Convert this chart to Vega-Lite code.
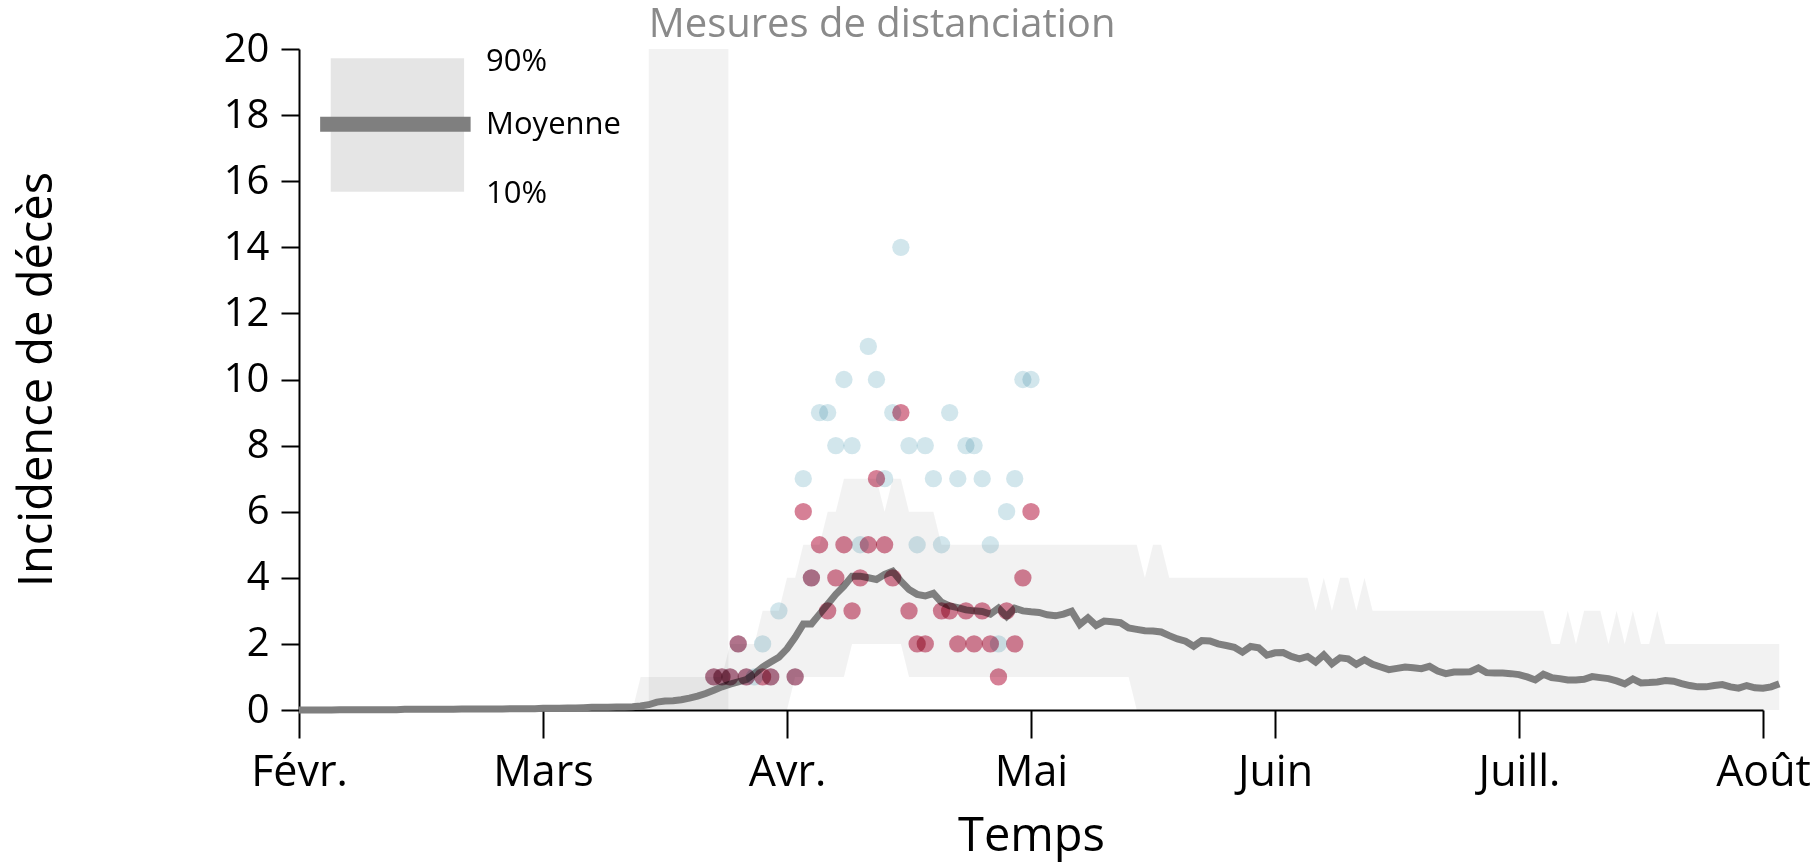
{
  "$schema": "https://vega.github.io/schema/vega-lite/v6.json",
  "width": 1464,
  "height": 661,
  "autosize": "none",
  "padding": {"left": 299, "top": 49, "right": 56, "bottom": 157},
  "background": "white",
  "config": {
    "view": {"stroke": null},
    "font": "Open Sans",
    "axis": {
      "grid": false,
      "domainColor": "black",
      "domainWidth": 2,
      "tickColor": "black",
      "tickWidth": 2,
      "labelColor": "black",
      "titleColor": "black",
      "labelFont": "Open Sans",
      "titleFont": "Open Sans",
      "titleFontWeight": "normal"
    }
  },
  "datasets": {
    "moyenne": [
      {"jour":0,"moyenne":0},{"jour":1,"moyenne":0},{"jour":2,"moyenne":0},{"jour":3,"moyenne":0},{"jour":4,"moyenne":0},
      {"jour":5,"moyenne":0.01},{"jour":6,"moyenne":0.01},{"jour":7,"moyenne":0.01},{"jour":8,"moyenne":0.01},{"jour":9,"moyenne":0.01},
      {"jour":10,"moyenne":0.01},{"jour":11,"moyenne":0.01},{"jour":12,"moyenne":0.01},{"jour":13,"moyenne":0.02},{"jour":14,"moyenne":0.02},
      {"jour":15,"moyenne":0.02},{"jour":16,"moyenne":0.02},{"jour":17,"moyenne":0.02},{"jour":18,"moyenne":0.02},{"jour":19,"moyenne":0.02},
      {"jour":20,"moyenne":0.03},{"jour":21,"moyenne":0.03},{"jour":22,"moyenne":0.03},{"jour":23,"moyenne":0.03},{"jour":24,"moyenne":0.03},
      {"jour":25,"moyenne":0.03},{"jour":26,"moyenne":0.04},{"jour":27,"moyenne":0.04},{"jour":28,"moyenne":0.04},{"jour":29,"moyenne":0.04},
      {"jour":30,"moyenne":0.05},{"jour":31,"moyenne":0.05},{"jour":32,"moyenne":0.05},{"jour":33,"moyenne":0.06},{"jour":34,"moyenne":0.06},
      {"jour":35,"moyenne":0.07},{"jour":36,"moyenne":0.08},{"jour":37,"moyenne":0.08},{"jour":38,"moyenne":0.08},{"jour":39,"moyenne":0.09},
      {"jour":40,"moyenne":0.09},{"jour":41,"moyenne":0.1},{"jour":42,"moyenne":0.12},{"jour":43,"moyenne":0.16},{"jour":44,"moyenne":0.24},
      {"jour":45,"moyenne":0.27},{"jour":46,"moyenne":0.28},{"jour":47,"moyenne":0.31},{"jour":48,"moyenne":0.36},{"jour":49,"moyenne":0.42},
      {"jour":50,"moyenne":0.5},{"jour":51,"moyenne":0.6},{"jour":52,"moyenne":0.7},{"jour":53,"moyenne":0.78},{"jour":54,"moyenne":0.85},
      {"jour":55,"moyenne":0.92},{"jour":56,"moyenne":1.1},{"jour":57,"moyenne":1.3},{"jour":58,"moyenne":1.45},{"jour":59,"moyenne":1.6},
      {"jour":60,"moyenne":1.85},{"jour":61,"moyenne":2.2},{"jour":62,"moyenne":2.6},{"jour":63,"moyenne":2.6},{"jour":64,"moyenne":2.9},
      {"jour":65,"moyenne":3.2},{"jour":66,"moyenne":3.5},{"jour":67,"moyenne":3.75},{"jour":68,"moyenne":4.05},{"jour":69,"moyenne":4.05},
      {"jour":70,"moyenne":4.0},{"jour":71,"moyenne":3.95},{"jour":72,"moyenne":4.1},{"jour":73,"moyenne":4.2},{"jour":74,"moyenne":3.9},
      {"jour":75,"moyenne":3.65},{"jour":76,"moyenne":3.5},{"jour":77,"moyenne":3.45},{"jour":78,"moyenne":3.53},{"jour":79,"moyenne":3.26},
      {"jour":80,"moyenne":3.15},{"jour":81,"moyenne":3.1},{"jour":82,"moyenne":3.03},{"jour":83,"moyenne":3.0},{"jour":84,"moyenne":2.98},
      {"jour":85,"moyenne":2.9},{"jour":86,"moyenne":3.08},{"jour":87,"moyenne":2.83},{"jour":88,"moyenne":3.08},{"jour":89,"moyenne":3.0},
      {"jour":90,"moyenne":2.97},{"jour":91,"moyenne":2.95},{"jour":92,"moyenne":2.88},{"jour":93,"moyenne":2.85},{"jour":94,"moyenne":2.9},
      {"jour":95,"moyenne":2.99},{"jour":96,"moyenne":2.59},{"jour":97,"moyenne":2.79},{"jour":98,"moyenne":2.56},{"jour":99,"moyenne":2.69},
      {"jour":100,"moyenne":2.67},{"jour":101,"moyenne":2.64},{"jour":102,"moyenne":2.48},{"jour":103,"moyenne":2.44},{"jour":104,"moyenne":2.4},
      {"jour":105,"moyenne":2.39},{"jour":106,"moyenne":2.36},{"jour":107,"moyenne":2.25},{"jour":108,"moyenne":2.15},{"jour":109,"moyenne":2.08},
      {"jour":110,"moyenne":1.93},{"jour":111,"moyenne":2.1},{"jour":112,"moyenne":2.09},{"jour":113,"moyenne":2.0},{"jour":114,"moyenne":1.95},
      {"jour":115,"moyenne":1.9},{"jour":116,"moyenne":1.75},{"jour":117,"moyenne":1.92},{"jour":118,"moyenne":1.88},{"jour":119,"moyenne":1.66},
      {"jour":120,"moyenne":1.73},{"jour":121,"moyenne":1.74},{"jour":122,"moyenne":1.62},{"jour":123,"moyenne":1.55},{"jour":124,"moyenne":1.62},
      {"jour":125,"moyenne":1.45},{"jour":126,"moyenne":1.67},{"jour":127,"moyenne":1.4},{"jour":128,"moyenne":1.58},{"jour":129,"moyenne":1.55},
      {"jour":130,"moyenne":1.38},{"jour":131,"moyenne":1.52},{"jour":132,"moyenne":1.38},{"jour":133,"moyenne":1.3},{"jour":134,"moyenne":1.22},
      {"jour":135,"moyenne":1.26},{"jour":136,"moyenne":1.3},{"jour":137,"moyenne":1.28},{"jour":138,"moyenne":1.25},{"jour":139,"moyenne":1.32},
      {"jour":140,"moyenne":1.18},{"jour":141,"moyenne":1.1},{"jour":142,"moyenne":1.15},{"jour":143,"moyenne":1.15},{"jour":144,"moyenne":1.16},
      {"jour":145,"moyenne":1.27},{"jour":146,"moyenne":1.13},{"jour":147,"moyenne":1.12},{"jour":148,"moyenne":1.12},{"jour":149,"moyenne":1.1},
      {"jour":150,"moyenne":1.07},{"jour":151,"moyenne":1.0},{"jour":152,"moyenne":0.91},{"jour":153,"moyenne":1.08},{"jour":154,"moyenne":0.98},
      {"jour":155,"moyenne":0.95},{"jour":156,"moyenne":0.91},{"jour":157,"moyenne":0.91},{"jour":158,"moyenne":0.93},{"jour":159,"moyenne":1.01},
      {"jour":160,"moyenne":0.98},{"jour":161,"moyenne":0.95},{"jour":162,"moyenne":0.88},{"jour":163,"moyenne":0.79},{"jour":164,"moyenne":0.94},
      {"jour":165,"moyenne":0.82},{"jour":166,"moyenne":0.83},{"jour":167,"moyenne":0.85},{"jour":168,"moyenne":0.89},{"jour":169,"moyenne":0.87},
      {"jour":170,"moyenne":0.8},{"jour":171,"moyenne":0.74},{"jour":172,"moyenne":0.7},{"jour":173,"moyenne":0.7},{"jour":174,"moyenne":0.74},
      {"jour":175,"moyenne":0.77},{"jour":176,"moyenne":0.7},{"jour":177,"moyenne":0.66},{"jour":178,"moyenne":0.74},{"jour":179,"moyenne":0.67},
      {"jour":180,"moyenne":0.66},{"jour":181,"moyenne":0.7},{"jour":182,"moyenne":0.79}
    ],
    "bande": [
      {"jour":41,"bas":0,"haut":0},
      {"jour":42,"bas":0,"haut":1},{"jour":43,"bas":0,"haut":1},{"jour":44,"bas":0,"haut":1},{"jour":45,"bas":0,"haut":1},
      {"jour":46,"bas":0,"haut":1},{"jour":47,"bas":0,"haut":1},{"jour":48,"bas":0,"haut":1},{"jour":49,"bas":0,"haut":1},
      {"jour":50,"bas":0,"haut":1},{"jour":51,"bas":0,"haut":1},{"jour":52,"bas":0,"haut":1},
      {"jour":53,"bas":0,"haut":2},{"jour":54,"bas":0,"haut":2},{"jour":55,"bas":0,"haut":2},{"jour":56,"bas":0,"haut":2},
      {"jour":57,"bas":0,"haut":3},{"jour":58,"bas":0,"haut":3},{"jour":59,"bas":0,"haut":3},
      {"jour":60,"bas":0,"haut":4},{"jour":61,"bas":1,"haut":4},
      {"jour":62,"bas":1,"haut":5},{"jour":63,"bas":1,"haut":5},{"jour":64,"bas":1,"haut":5},
      {"jour":65,"bas":1,"haut":6},{"jour":66,"bas":1,"haut":6},{"jour":67,"bas":1,"haut":7},
      {"jour":68,"bas":2,"haut":7},{"jour":69,"bas":2,"haut":7},{"jour":70,"bas":2,"haut":7},{"jour":71,"bas":2,"haut":7},
      {"jour":72,"bas":2,"haut":6},{"jour":73,"bas":2,"haut":7},{"jour":74,"bas":2,"haut":7},
      {"jour":75,"bas":1,"haut":6},{"jour":76,"bas":1,"haut":6},{"jour":77,"bas":1,"haut":6},{"jour":78,"bas":1,"haut":6},
      {"jour":79,"bas":1,"haut":5},{"jour":80,"bas":1,"haut":5},{"jour":81,"bas":1,"haut":5},{"jour":82,"bas":1,"haut":5},
      {"jour":83,"bas":1,"haut":5},{"jour":84,"bas":1,"haut":5},{"jour":85,"bas":1,"haut":5},{"jour":86,"bas":1,"haut":5},
      {"jour":87,"bas":1,"haut":5},{"jour":88,"bas":1,"haut":5},{"jour":89,"bas":1,"haut":5},{"jour":90,"bas":1,"haut":5},
      {"jour":91,"bas":1,"haut":5},{"jour":92,"bas":1,"haut":5},{"jour":93,"bas":1,"haut":5},{"jour":94,"bas":1,"haut":5},
      {"jour":95,"bas":1,"haut":5},{"jour":96,"bas":1,"haut":5},{"jour":97,"bas":1,"haut":5},{"jour":98,"bas":1,"haut":5},
      {"jour":99,"bas":1,"haut":5},{"jour":100,"bas":1,"haut":5},{"jour":101,"bas":1,"haut":5},{"jour":102,"bas":1,"haut":5},
      {"jour":103,"bas":0,"haut":5},{"jour":104,"bas":0,"haut":4},{"jour":105,"bas":0,"haut":5},{"jour":106,"bas":0,"haut":5},
      {"jour":107,"bas":0,"haut":4},{"jour":108,"bas":0,"haut":4},{"jour":109,"bas":0,"haut":4},{"jour":110,"bas":0,"haut":4},
      {"jour":111,"bas":0,"haut":4},{"jour":112,"bas":0,"haut":4},{"jour":113,"bas":0,"haut":4},{"jour":114,"bas":0,"haut":4},
      {"jour":115,"bas":0,"haut":4},{"jour":116,"bas":0,"haut":4},{"jour":117,"bas":0,"haut":4},{"jour":118,"bas":0,"haut":4},
      {"jour":119,"bas":0,"haut":4},{"jour":120,"bas":0,"haut":4},{"jour":121,"bas":0,"haut":4},{"jour":122,"bas":0,"haut":4},
      {"jour":123,"bas":0,"haut":4},{"jour":124,"bas":0,"haut":4},{"jour":125,"bas":0,"haut":3},{"jour":126,"bas":0,"haut":4},
      {"jour":127,"bas":0,"haut":3},{"jour":128,"bas":0,"haut":4},{"jour":129,"bas":0,"haut":4},{"jour":130,"bas":0,"haut":3},
      {"jour":131,"bas":0,"haut":4},{"jour":132,"bas":0,"haut":3},{"jour":133,"bas":0,"haut":3},{"jour":134,"bas":0,"haut":3},
      {"jour":135,"bas":0,"haut":3},{"jour":136,"bas":0,"haut":3},{"jour":137,"bas":0,"haut":3},{"jour":138,"bas":0,"haut":3},
      {"jour":139,"bas":0,"haut":3},{"jour":140,"bas":0,"haut":3},{"jour":141,"bas":0,"haut":3},{"jour":142,"bas":0,"haut":3},
      {"jour":143,"bas":0,"haut":3},{"jour":144,"bas":0,"haut":3},{"jour":145,"bas":0,"haut":3},{"jour":146,"bas":0,"haut":3},
      {"jour":147,"bas":0,"haut":3},{"jour":148,"bas":0,"haut":3},{"jour":149,"bas":0,"haut":3},{"jour":150,"bas":0,"haut":3},
      {"jour":151,"bas":0,"haut":3},{"jour":152,"bas":0,"haut":3},{"jour":153,"bas":0,"haut":3},{"jour":154,"bas":0,"haut":2},
      {"jour":155,"bas":0,"haut":2},{"jour":156,"bas":0,"haut":3},{"jour":157,"bas":0,"haut":2},{"jour":158,"bas":0,"haut":3},
      {"jour":159,"bas":0,"haut":3},{"jour":160,"bas":0,"haut":3},{"jour":161,"bas":0,"haut":2},{"jour":162,"bas":0,"haut":3},
      {"jour":163,"bas":0,"haut":2},{"jour":164,"bas":0,"haut":3},{"jour":165,"bas":0,"haut":2},{"jour":166,"bas":0,"haut":2},
      {"jour":167,"bas":0,"haut":3},{"jour":168,"bas":0,"haut":2},{"jour":169,"bas":0,"haut":2},{"jour":170,"bas":0,"haut":2},
      {"jour":171,"bas":0,"haut":2},{"jour":172,"bas":0,"haut":2},{"jour":173,"bas":0,"haut":2},{"jour":174,"bas":0,"haut":2},
      {"jour":175,"bas":0,"haut":2},{"jour":176,"bas":0,"haut":2},{"jour":177,"bas":0,"haut":2},{"jour":178,"bas":0,"haut":2},
      {"jour":179,"bas":0,"haut":2},{"jour":180,"bas":0,"haut":2},{"jour":181,"bas":0,"haut":2},{"jour":182,"bas":0,"haut":2}
    ],
    "observations": [
      {"jour":51,"deces":1,"serie":"A"},{"jour":52,"deces":1,"serie":"A"},{"jour":53,"deces":1,"serie":"A"},{"jour":54,"deces":2,"serie":"A"},
      {"jour":55,"deces":1,"serie":"A"},{"jour":56,"deces":1,"serie":"A"},{"jour":57,"deces":2,"serie":"A"},{"jour":58,"deces":1,"serie":"A"},
      {"jour":59,"deces":3,"serie":"A"},{"jour":61,"deces":1,"serie":"A"},{"jour":62,"deces":7,"serie":"A"},{"jour":63,"deces":4,"serie":"A"},
      {"jour":64,"deces":9,"serie":"A"},{"jour":65,"deces":9,"serie":"A"},{"jour":66,"deces":8,"serie":"A"},{"jour":67,"deces":10,"serie":"A"},
      {"jour":68,"deces":8,"serie":"A"},{"jour":69,"deces":5,"serie":"A"},{"jour":70,"deces":11,"serie":"A"},{"jour":71,"deces":10,"serie":"A"},
      {"jour":72,"deces":7,"serie":"A"},{"jour":73,"deces":9,"serie":"A"},{"jour":74,"deces":14,"serie":"A"},{"jour":75,"deces":8,"serie":"A"},
      {"jour":76,"deces":5,"serie":"A"},{"jour":77,"deces":8,"serie":"A"},{"jour":78,"deces":7,"serie":"A"},{"jour":79,"deces":5,"serie":"A"},
      {"jour":80,"deces":9,"serie":"A"},{"jour":81,"deces":7,"serie":"A"},{"jour":82,"deces":8,"serie":"A"},{"jour":83,"deces":8,"serie":"A"},
      {"jour":84,"deces":7,"serie":"A"},{"jour":85,"deces":5,"serie":"A"},{"jour":86,"deces":2,"serie":"A"},{"jour":87,"deces":6,"serie":"A"},
      {"jour":88,"deces":7,"serie":"A"},{"jour":89,"deces":10,"serie":"A"},{"jour":90,"deces":10,"serie":"A"},
      {"jour":51,"deces":1,"serie":"B"},{"jour":52,"deces":1,"serie":"B"},{"jour":53,"deces":1,"serie":"B"},{"jour":54,"deces":2,"serie":"B"},
      {"jour":55,"deces":1,"serie":"B"},{"jour":57,"deces":1,"serie":"B"},{"jour":58,"deces":1,"serie":"B"},{"jour":61,"deces":1,"serie":"B"},
      {"jour":62,"deces":6,"serie":"B"},{"jour":63,"deces":4,"serie":"B"},{"jour":64,"deces":5,"serie":"B"},{"jour":65,"deces":3,"serie":"B"},
      {"jour":66,"deces":4,"serie":"B"},{"jour":67,"deces":5,"serie":"B"},{"jour":68,"deces":3,"serie":"B"},{"jour":69,"deces":4,"serie":"B"},
      {"jour":70,"deces":5,"serie":"B"},{"jour":71,"deces":7,"serie":"B"},{"jour":72,"deces":5,"serie":"B"},{"jour":73,"deces":4,"serie":"B"},
      {"jour":74,"deces":9,"serie":"B"},{"jour":75,"deces":3,"serie":"B"},{"jour":76,"deces":2,"serie":"B"},{"jour":77,"deces":2,"serie":"B"},
      {"jour":79,"deces":3,"serie":"B"},{"jour":80,"deces":3,"serie":"B"},{"jour":81,"deces":2,"serie":"B"},{"jour":82,"deces":3,"serie":"B"},
      {"jour":83,"deces":2,"serie":"B"},{"jour":84,"deces":3,"serie":"B"},{"jour":85,"deces":2,"serie":"B"},{"jour":86,"deces":1,"serie":"B"},
      {"jour":87,"deces":3,"serie":"B"},{"jour":88,"deces":2,"serie":"B"},{"jour":89,"deces":4,"serie":"B"},{"jour":90,"deces":6,"serie":"B"}
    ],
    "mesures": [{"debut":43,"fin":52.8,"libelle":"Mesures de distanciation","haut_texte":20.37}],
    "legende_boite": [{"x0":3.9,"x1":20.3,"y0":15.68,"y1":19.72}],
    "legende_ligne": [{"x0":2.6,"x1":21.1,"y":17.72}],
    "legende_textes": [
      {"x":23,"y":19.62,"texte":"90%"},
      {"x":23,"y":17.7,"texte":"Moyenne"},
      {"x":23,"y":15.62,"texte":"10%"}
    ]
  },
  "layer": [
    {
      "data": {"name": "mesures"},
      "mark": {"type": "rect", "color": "black", "opacity": 0.05},
      "encoding": {
        "x": {
          "field": "debut", "type": "quantitative",
          "scale": {"domain": [0, 180], "nice": false, "zero": false},
          "axis": {
            "values": [0, 30, 60, 90, 120, 150, 180],
            "labelExpr": "['Févr.','Mars','Avr.','Mai','Juin','Juill.','Août'][round(datum.value/30)]",
            "labelFontSize": 43,
            "labelBaseline": "alphabetic",
            "labelPadding": 47,
            "labelFlush": false,
            "labelOverlap": false,
            "tickSize": 28,
            "title": "Temps",
            "titleFontSize": 47,
            "titleBaseline": "alphabetic",
            "titleY": 140,
            "titleX": 732,
            "titleAlign": "center"
          }
        },
        "x2": {"field": "fin"},
        "y": {
          "datum": 0, "type": "quantitative",
          "scale": {"domain": [0, 20], "nice": false, "zero": true},
          "axis": {
            "values": [0, 2, 4, 6, 8, 10, 12, 14, 16, 18, 20],
            "labelFontSize": 40,
            "labelPadding": 12,
            "tickSize": 18,
            "title": "Incidence de décès",
            "titleFontSize": 47,
            "titleBaseline": "alphabetic",
            "titleAngle": -90,
            "titleX": -248,
            "titleY": 330,
            "titleAlign": "center"
          }
        },
        "y2": {"datum": 20}
      }
    },
    {
      "data": {"name": "bande"},
      "mark": {"type": "area", "color": "black", "opacity": 0.05, "interpolate": "linear"},
      "encoding": {
        "x": {"field": "jour", "type": "quantitative"},
        "y": {"field": "haut", "type": "quantitative"},
        "y2": {"field": "bas"}
      }
    },
    {
      "data": {"name": "moyenne"},
      "mark": {"type": "line", "color": "#7f7f7f", "strokeWidth": 7, "strokeJoin": "miter"},
      "encoding": {
        "x": {"field": "jour", "type": "quantitative"},
        "y": {"field": "moyenne", "type": "quantitative"}
      }
    },
    {
      "data": {"name": "observations"},
      "mark": {"type": "circle", "size": 300, "opacity": 1, "blend": "multiply"},
      "encoding": {
        "x": {"field": "jour", "type": "quantitative"},
        "y": {"field": "deces", "type": "quantitative"},
        "color": {
          "field": "serie", "type": "nominal",
          "scale": {"domain": ["A", "B"], "range": ["#8ec0cf", "#b5173f"]},
          "legend": null
        },
        "fillOpacity": {
          "field": "serie", "type": "nominal",
          "scale": {"domain": ["A", "B"], "range": [0.4, 0.55]},
          "legend": null
        }
      }
    },
    {
      "data": {"name": "legende_boite"},
      "mark": {"type": "rect", "color": "black", "opacity": 0.1},
      "encoding": {
        "x": {"field": "x0", "type": "quantitative"},
        "x2": {"field": "x1"},
        "y": {"field": "y0", "type": "quantitative"},
        "y2": {"field": "y1"}
      }
    },
    {
      "data": {"name": "legende_ligne"},
      "mark": {"type": "rule", "color": "#7f7f7f", "strokeWidth": 15, "strokeCap": "butt"},
      "encoding": {
        "x": {"field": "x0", "type": "quantitative"},
        "x2": {"field": "x1"},
        "y": {"field": "y", "type": "quantitative"}
      }
    },
    {
      "data": {"name": "legende_textes"},
      "mark": {"type": "text", "align": "left", "baseline": "middle", "fontSize": 31, "font": "Open Sans", "color": "black"},
      "encoding": {
        "x": {"field": "x", "type": "quantitative"},
        "y": {"field": "y", "type": "quantitative"},
        "text": {"field": "texte"}
      }
    },
    {
      "data": {"name": "mesures"},
      "mark": {"type": "text", "align": "left", "baseline": "alphabetic", "fontSize": 40, "font": "Open Sans", "color": "#8a8a8a"},
      "encoding": {
        "x": {"field": "debut", "type": "quantitative"},
        "y": {"field": "haut_texte", "type": "quantitative"},
        "text": {"field": "libelle"}
      }
    }
  ]
}
